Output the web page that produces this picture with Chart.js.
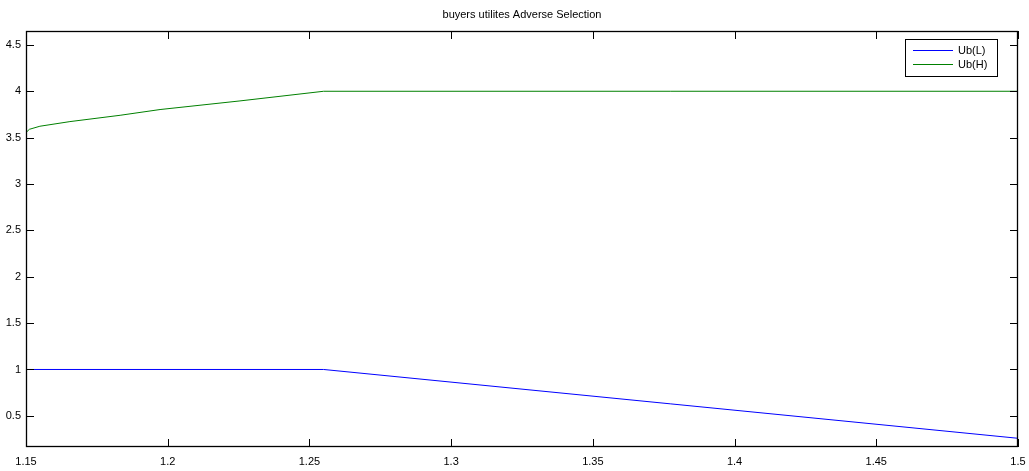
<!DOCTYPE html>
<html>
<head>
<meta charset="utf-8">
<script src="https://cdn.jsdelivr.net/npm/chart.js@4.4.0/dist/chart.umd.min.js"></script>
<style>
  html, body { margin: 0; padding: 0; background: #fff; }
  #wrap { width: 1029px; height: 471px; position: relative; }
</style>
</head>
<body>
<div id="wrap"><canvas id="utilChart" width="1029" height="471"></canvas></div>
<script>
const chartTitle = 'buyers utilites Adverse Selection';

const lowX = [1.15, 1.255, 1.5];
const lowY = [1.0, 1.0, 0.258];
const highX = [1.15, 1.1512, 1.1549, 1.1655, 1.1832, 1.1973, 1.2255, 1.255, 1.5];
const highY = [3.555, 3.59, 3.623, 3.673, 3.741, 3.803, 3.896, 4.0, 4.0];

const xTicks = [1.15, 1.2, 1.25, 1.3, 1.35, 1.4, 1.45, 1.5];
const xTickLabels = ['1.15', '1.2', '1.25', '1.3', '1.35', '1.4', '1.45', '1.5'];
const yTicks = [0.5, 1, 1.5, 2, 2.5, 3, 3.5, 4, 4.5];
const yTickLabels = ['0.5', '1', '1.5', '2', '2.5', '3', '3.5', '4', '4.5'];

const FONT = 'Liberation Sans, Arial, sans-serif';

function toPoints(xs, ys) {
    return xs.map((x, i) => ({ x: x, y: ys[i] }));
}

const frameAndLegend = {
    id: 'frameAndLegend',
    afterDraw(chart) {
        const { ctx, chartArea: a, scales } = chart;
        const tick = 8;
        ctx.save();
        ctx.strokeStyle = '#000';
        ctx.lineWidth = 1;
        ctx.beginPath();
        xTicks.forEach(v => {
            const px = Math.round(scales.x.getPixelForValue(v)) + 0.5;
            ctx.moveTo(px, a.bottom); ctx.lineTo(px, a.bottom - tick);
            ctx.moveTo(px, a.top); ctx.lineTo(px, a.top + tick);
        });
        yTicks.forEach(v => {
            const py = Math.round(scales.y.getPixelForValue(v)) + 0.5;
            ctx.moveTo(a.left, py); ctx.lineTo(a.left + tick, py);
            ctx.moveTo(a.right, py); ctx.lineTo(a.right - tick, py);
        });
        ctx.stroke();
        ctx.lineWidth = 1.3;
        ctx.strokeRect(Math.round(a.left) + 0.5, Math.round(a.top) + 0.5,
            Math.round(a.right - a.left) - 1, Math.round(a.bottom - a.top) - 1);

        // title
        ctx.fillStyle = '#000';
        ctx.font = '11px ' + FONT;
        ctx.textAlign = 'center';
        ctx.textBaseline = 'middle';
        ctx.fillText(chartTitle, (a.left + a.right) / 2, 15);

        // legend box inside plot
        const bx = 905, by = 39, bw = 92, bh = 37;
        ctx.fillStyle = '#fff';
        ctx.fillRect(bx, by, bw, bh);
        ctx.lineWidth = 1;
        ctx.strokeStyle = '#000';
        ctx.strokeRect(bx + 0.5, by + 0.5, bw, bh);
        ctx.textAlign = 'left';
        chart.data.datasets.forEach((ds, i) => {
            const y = by + 11 + i * 14;
            ctx.strokeStyle = ds.borderColor;
            ctx.beginPath();
            ctx.moveTo(913, y + 0.5);
            ctx.lineTo(953, y + 0.5);
            ctx.stroke();
            ctx.fillStyle = '#000';
            ctx.fillText(ds.label, 958, y + 1);
        });
        ctx.restore();
    }
};

new Chart(document.getElementById('utilChart').getContext('2d'), {
    type: 'line',
    data: {
        datasets: [
            {
                label: 'Ub(L)',
                data: toPoints(lowX, lowY),
                borderColor: '#0000ff',
                borderWidth: 1,
                pointRadius: 0,
                tension: 0
            },
            {
                label: 'Ub(H)',
                data: toPoints(highX, highY),
                borderColor: '#008000',
                borderWidth: 1,
                pointRadius: 0,
                tension: 0
            }
        ]
    },
    options: {
        responsive: false,
        animation: false,
        devicePixelRatio: 1,
        layout: { padding: { top: 31, right: 11, left: 0, bottom: 0 } },
        plugins: {
            legend: { display: false },
            title: { display: false },
            tooltip: { enabled: false }
        },
        scales: {
            x: {
                type: 'linear',
                min: 1.15,
                max: 1.5,
                afterFit: s => { s.height = 24; s.paddingLeft = 0; s.paddingRight = 0; },
                afterBuildTicks: s => { s.ticks = xTicks.map(v => ({ value: v })); },
                grid: { drawOnChartArea: false, drawTicks: false },
                border: { display: false },
                ticks: {
                    color: '#000',
                    font: { family: FONT, size: 11 },
                    padding: 8,
                    maxRotation: 0,
                    autoSkip: false,
                    callback: (v, i) => xTickLabels[i]
                }
            },
            y: {
                type: 'linear',
                min: 0.164,
                max: 4.65,
                afterFit: s => { s.width = 26; s.paddingTop = 0; s.paddingBottom = 0; },
                afterBuildTicks: s => { s.ticks = yTicks.map(v => ({ value: v })); },
                grid: { drawOnChartArea: false, drawTicks: false },
                border: { display: false },
                ticks: {
                    color: '#000',
                    font: { family: FONT, size: 11 },
                    padding: 5,
                    autoSkip: false,
                    callback: (v, i) => yTickLabels[i]
                }
            }
        }
    },
    plugins: [frameAndLegend]
});
</script>
</body>
</html>
